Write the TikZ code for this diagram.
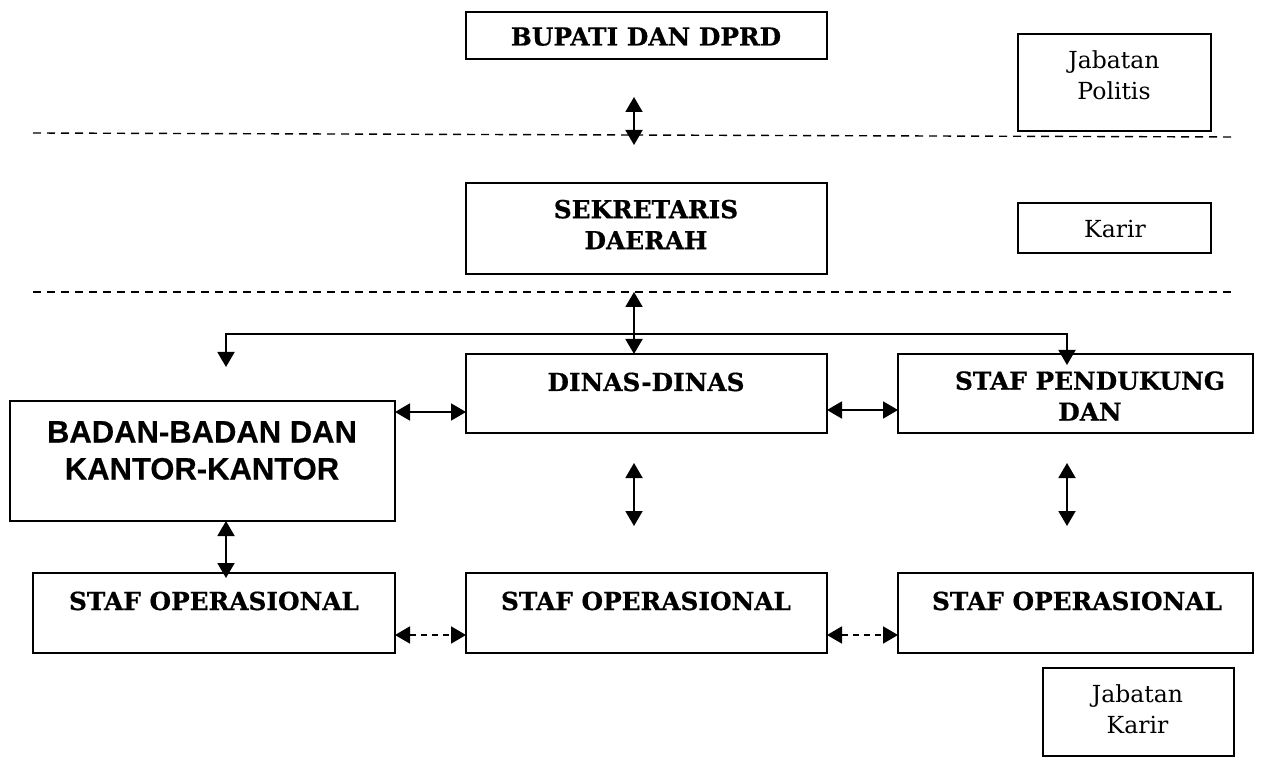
\documentclass[tikz,border=0pt]{standalone}
\usepackage{fontspec}
\setmainfont{DejaVu Serif}[BoldFeatures={FakeBold=0.6}]
\newfontfamily\arialfont{Liberation Sans}[BoldFeatures={FakeBold=0.4}]
\usetikzlibrary{arrows.meta}
\begin{document}
\begin{tikzpicture}[x=1pt,y=-1pt,
  box/.style={draw, line width=1.9pt, inner sep=0pt, outer sep=0pt},
  head/.style={font=\fontsize{24.8}{31}\selectfont\bfseries, align=center, inner sep=0pt},
  plain/.style={font=\fontsize{23.5}{31}\selectfont, align=center, inner sep=0pt},
  big/.style={font=\arialfont\fontsize{31}{37}\selectfont\bfseries, align=center, inner sep=0pt},
  link/.style={line width=1.9pt, {Triangle[length=15pt,width=17pt]}-{Triangle[length=15pt,width=17pt]}},
  weak/.style={link, dash pattern=on 6pt off 5pt},
  sep/.style={line width=1.4pt, dash pattern=on 8pt off 6pt}]

\useasboundingbox (0,0) rectangle (1288,775);
\fill[white] (0,0) rectangle (1288,775);

% boxes
\node[box, minimum width=361pt, minimum height=47pt] (bupati)    at (646.5,35.5) {};
\node[box, minimum width=193pt, minimum height=97pt] (politis)   at (1114.5,82.5) {};
\node[box, minimum width=361pt, minimum height=91pt] (sekda)     at (646.5,228.5) {};
\node[box, minimum width=193pt, minimum height=50pt] (karir)     at (1114.5,228) {};
\node[box, minimum width=361pt, minimum height=79pt] (dinas)     at (646.5,393.5) {};
\node[box, minimum width=355pt, minimum height=79pt] (pendukung) at (1075.5,393.5) {};
\node[box, minimum width=385pt, minimum height=120pt] (badan)    at (202.5,461) {};
\node[box, minimum width=362pt, minimum height=80pt] (opL)       at (214,613) {};
\node[box, minimum width=361pt, minimum height=80pt] (opM)       at (646.5,613) {};
\node[box, minimum width=355pt, minimum height=80pt] (opR)       at (1075.5,613) {};
\node[box, minimum width=191pt, minimum height=88pt] (karirJ)    at (1138.5,712) {};

% labels
\node[head, anchor=base] (tBupati) at (646,45.5) {BUPATI DAN DPRD};
\node[plain] (tPolitis) at (1114,75) {Jabatan\\Politis};
\node[head] (tSekda) at (646,224.5) {SEKRETARIS\\DAERAH};
\node[plain, anchor=base] (tKarir) at (1115,238) {Karir};
\node[head, anchor=base] (tDinas) at (646,391) {DINAS-DINAS};
\node[head] (tPendukung) at (1090,396) {STAF PENDUKUNG\\DAN};
\node[big] (tBadan) at (202,450.5) {BADAN-BADAN DAN\\KANTOR-KANTOR};
\node[head, anchor=base] (tOpL) at (214,610) {STAF OPERASIONAL};
\node[head, anchor=base] (tOpM) at (646,610) {STAF OPERASIONAL};
\node[head, anchor=base] (tOpR) at (1077,610) {STAF OPERASIONAL};
\node[plain] (tKarirJ) at (1137.5,709) {Jabatan\\Karir};

% level separators
\coordinate (sepA1) at (33,133);
\coordinate (sepA2) at (1232,137);
\coordinate (sepB1) at (33,292);
\coordinate (sepB2) at (1232,292);
\draw[sep] (sepA1) -- (sepA2);
\draw[sep] (sepB1) -- (sepB2);

% free ends of connectors
\coordinate (upA) at (634,97);
\coordinate (upB) at (634,145);
\coordinate (secEnd) at (634,292);
\coordinate (brL) at (226,367);
\coordinate (brJ) at (634,334);
\coordinate (brR) at (1067,365);
\coordinate (dnA) at (634,463);
\coordinate (dnB) at (634,526);
\coordinate (pdA) at (1067,463);
\coordinate (pdB) at (1067,526);
\coordinate (rowBD) at (0,412);
\coordinate (rowDP) at (0,410);
\coordinate (rowOp) at (0,635);
\coordinate (colL) at (226,0);

% connectors
\draw[link] (upA) -- (upB);
\draw[link] (secEnd) -- (secEnd |- dinas.north);
\draw[link] (brL) |- (brJ) -| (brR);
\draw[link] (badan.east |- rowBD) -- (dinas.west |- rowBD);
\draw[link] (dinas.east |- rowDP) -- (pendukung.west |- rowDP);
\draw[link] (dnA) -- (dnB);
\draw[link] (pdA) -- (pdB);
\draw[link] (badan.south -| colL) -- ([yshift=-5pt]opL.north -| colL);
\draw[weak] (opL.east |- rowOp) -- (opM.west |- rowOp);
\draw[weak] (opM.east |- rowOp) -- (opR.west |- rowOp);
\end{tikzpicture}
\end{document}
